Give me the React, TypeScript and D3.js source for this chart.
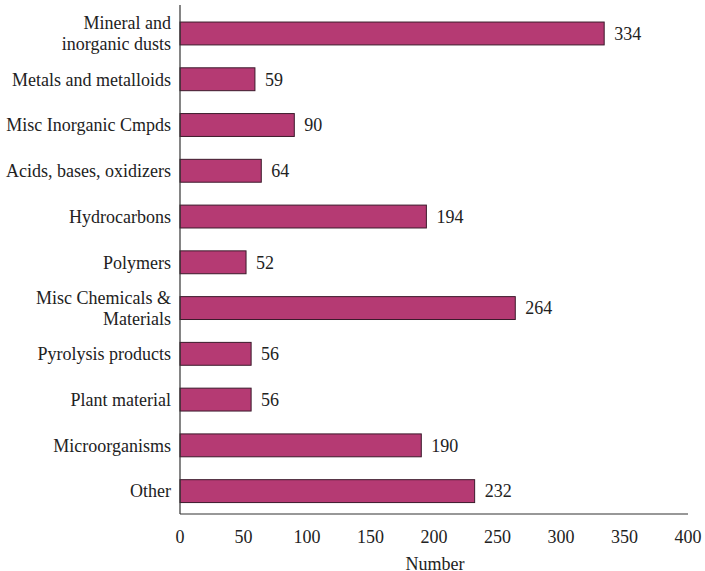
import * as d3 from 'd3';

const categories = [
  'Mineral and\ninorganic dusts',
  'Metals and metalloids',
  'Misc Inorganic Cmpds',
  'Acids, bases, oxidizers',
  'Hydrocarbons',
  'Polymers',
  'Misc Chemicals &\nMaterials',
  'Pyrolysis products',
  'Plant material',
  'Microorganisms',
  'Other',
];
const counts = [334, 59, 90, 64, 194, 52, 264, 56, 56, 190, 232];
const xTicks = [0, 50, 100, 150, 200, 250, 300, 350, 400];

const W = 705;
const H = 571;
const left = 180;
const right = 688;
const top = 10.6;
const bottom = 514;
const textStyle = { fontFamily: 'serif' };

export default function App() {
  const x = d3.scaleLinear().domain([0, 400]).range([left, right]);
  const y = d3
    .scaleBand<string>()
    .domain(categories)
    .range([top, bottom])
    .paddingInner(0.5)
    .paddingOuter(0.25);

  return (
    <svg
      width={W}
      height={H}
      style={{ position: 'absolute', left: 0, top: 0, background: '#fff' }}
    >
      {/* bars */}
      {categories.map((c, i) => (
        <g key={c}>
          <rect
            x={x(0)}
            y={y(c)}
            width={x(counts[i]) - x(0)}
            height={y.bandwidth()}
            fill="#b53a73"
            stroke="#3b1a2b"
            strokeWidth={1}
          />
          <text
            x={x(counts[i]) + 10}
            y={(y(c) ?? 0) + y.bandwidth() / 2}
            dy="0.35em"
            fontSize={18}
            fill="#222"
            style={textStyle}
          >
            {counts[i]}
          </text>
        </g>
      ))}

      {/* category labels */}
      {categories.map((c) => {
        const lines = c.split('\n');
        const cy = (y(c) ?? 0) + y.bandwidth() / 2;
        const lh = 21;
        return (
          <text key={c} x={171} textAnchor="end" fontSize={18} fill="#222" style={textStyle}>
            {lines.map((l, j) => (
              <tspan key={j} x={171} y={cy + (j - (lines.length - 1) / 2) * lh} dy="0.35em">
                {l}
              </tspan>
            ))}
          </text>
        );
      })}

      {/* axes */}
      <line x1={left} x2={left} y1={5} y2={bottom} stroke="#333" strokeWidth={1.2} />
      <line x1={left} x2={right} y1={bottom} y2={bottom} stroke="#333" strokeWidth={1.2} />

      {xTicks.map((t) => (
        <text key={t} x={x(t)} y={537} dy="0.35em" textAnchor="middle" fontSize={18} fill="#222" style={textStyle}>
          {t}
        </text>
      ))}

      <text x={435} y={564} dy="0.35em" textAnchor="middle" fontSize={18} fill="#222" style={textStyle}>
        Number
      </text>
    </svg>
  );
}
